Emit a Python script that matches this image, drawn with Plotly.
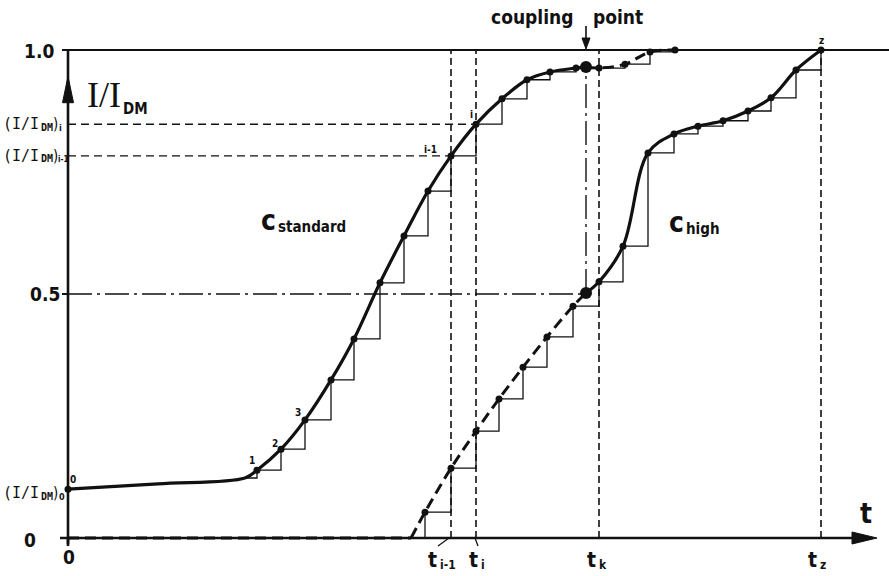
import plotly.graph_objects as go

# ---------------------------------------------------------------------------
# Curve data: time t (arbitrary units) and normalised current I/I_DM
# ---------------------------------------------------------------------------
# c_standard, solid branch up to the coupling point
std_t = [0, 90, 177, 189, 213, 237, 263, 286, 312, 336, 360, 383, 408, 434, 459, 482, 508]
std_i = [0.100, 0.111, 0.123, 0.139, 0.182, 0.242, 0.324, 0.408, 0.523, 0.619,
         0.711, 0.783, 0.848, 0.900, 0.939, 0.955, 0.963]
# c_standard, dashed continuation behind the coupling point
std_after_t = [531, 557, 582, 607]
std_after_i = [0.963, 0.971, 0.996, 1.000]

# coupling point (same time on both curves)
couple_t = 518
couple_std_i = 0.965
couple_high_i = 0.502

# c_high, dashed branch before the coupling point
high_flat_t = [0, 343]
high_flat_i = [0.0, 0.0]
high_before_t = [343, 357, 383, 408, 431, 455, 479, 505]
high_before_i = [0.000, 0.053, 0.143, 0.219, 0.285, 0.350, 0.412, 0.475]
# c_high, solid branch after the coupling point
high_after_t = [531, 555, 580, 606, 630, 655, 680, 703, 728, 753]
high_after_i = [0.525, 0.598, 0.789, 0.828, 0.844, 0.855, 0.875, 0.902, 0.959, 1.000]

# marked time instants on the t axis
t_marks = {"i-1": 383, "i": 408, "k": 531, "z": 753}
i_level_im1 = std_i[std_t.index(t_marks["i-1"])]
i_level_i = std_i[std_t.index(t_marks["i"])]

# point numbering along c_standard
point_labels = ["0", "1", "2", "3", "i-1", "i"]
point_label_t = [0, 189, 213, 237, 383, 408]

FONT = "DejaVu Sans Condensed, Liberation Sans Narrow, DejaVu Sans, sans-serif"
MONO = "DejaVu Sans Mono"
SERIF = "Liberation Serif"
BLACK = "#111111"

PX_I = 1.0 / 488.0  # data units of I/I_DM per screen pixel

fig = go.Figure()


def line(x, y, width=1.3, dash="solid", shape="linear"):
    fig.add_trace(go.Scatter(x=x, y=y, mode="lines", hoverinfo="skip",
                             line=dict(color=BLACK, width=width, dash=dash, shape=shape)))


def dots(x, y, size=7):
    fig.add_trace(go.Scatter(x=x, y=y, mode="markers", hoverinfo="skip",
                             marker=dict(color=BLACK, size=size)))


# --- guide lines --------------------------------------------------------
for tm in t_marks.values():
    line([tm, tm], [0, 1.0], width=1.6, dash="7px,4px")
line([0, t_marks["i"]], [i_level_i, i_level_i], width=1.4, dash="8px,5px")
line([0, t_marks["i-1"]], [i_level_im1, i_level_im1], width=1.4, dash="8px,5px")
# dash-dot construction of the coupling point
line([0, couple_t], [0.5, 0.5], width=1.4, dash="24px,5px,3px,5px")
line([couple_t, couple_t], [couple_high_i, couple_std_i], width=1.4, dash="24px,5px,3px,5px")

# --- integration staircases --------------------------------------------
step_std_t = std_t[2:] + std_after_t
step_std_i = std_i[2:] + std_after_i
line(step_std_t, step_std_i, width=1.3, shape="hv")
step_high_t = high_before_t + high_after_t
step_high_i = high_before_i + high_after_i
line(step_high_t, step_high_i, width=1.3, shape="hv")

# --- curves -------------------------------------------------------------
line(std_t + [couple_t], std_i + [couple_std_i], width=3.2, shape="spline")
line([couple_t] + std_after_t, [couple_std_i] + std_after_i, width=3.0,
     dash="11px,6px", shape="spline")
line(high_flat_t, high_flat_i, width=3.0, dash="11px,6px")
line(high_before_t + [couple_t], high_before_i + [couple_high_i], width=3.0,
     dash="11px,6px", shape="spline")
line([couple_t] + high_after_t, [couple_high_i] + high_after_i, width=3.2, shape="spline")

# --- points -------------------------------------------------------------
dots([std_t[0]] + std_t[3:] + std_after_t, [std_i[0]] + std_i[3:] + std_after_i, size=7)
dots(high_before_t[1:] + high_after_t, high_before_i[1:] + high_after_i, size=7)
dots([couple_t, couple_t], [couple_std_i, couple_high_i], size=12)

# --- axes and arrows drawn as shapes -----------------------------------
shapes = [
    dict(type="line", x0=-8, y0=0, x1=790, y1=0, line=dict(color=BLACK, width=2.6)),
    dict(type="path", path=f"M 784,{6 * PX_I} L 809,0 L 784,{-6 * PX_I} Z",
         fillcolor=BLACK, line=dict(color=BLACK, width=1)),
    dict(type="line", x0=0, y0=-6 * PX_I, x1=0, y1=1.0, line=dict(color=BLACK, width=2.6)),
    dict(type="path", path="M -5.5,0.892 L 0,0.946 L 5.5,0.892 Z",
         fillcolor=BLACK, line=dict(color=BLACK, width=1)),
    dict(type="line", x0=-6, y0=1.0, x1=821, y1=1.0, line=dict(color=BLACK, width=2.2)),
    dict(type="line", x0=-6, y0=0.5, x1=0, y1=0.5, line=dict(color=BLACK, width=2)),
    dict(type="line", x0=0, y0=0, x1=0, y1=-8 * PX_I, line=dict(color=BLACK, width=2.6)),
    # leader strokes for t_(i-1) and t_i
    dict(type="line", x0=t_marks["i-1"] - 13, y0=-8 * PX_I, x1=t_marks["i-1"] - 2, y1=0,
         line=dict(color=BLACK, width=1.3)),
    dict(type="line", x0=t_marks["i"] + 2, y0=-8 * PX_I, x1=t_marks["i"] - 1, y1=0,
         line=dict(color=BLACK, width=1.3)),
    # arrow pointing at the coupling instant
    dict(type="line", x0=couple_t, y0=1.0 + 24 * PX_I, x1=couple_t, y1=1.0 + 8 * PX_I,
         line=dict(color=BLACK, width=1.6)),
    dict(type="path",
         path=f"M {couple_t - 4},{1.0 + 12 * PX_I} L {couple_t},{1.0 + 1 * PX_I} "
              f"L {couple_t + 4},{1.0 + 12 * PX_I} Z",
         fillcolor=BLACK, line=dict(color=BLACK, width=1)),
]

ann = []


def text(x, y, s, size, xanchor="center", yanchor="middle", family=FONT,
         weight="normal", pad=1):
    ann.append(dict(x=x, y=y, text=s, showarrow=False, xanchor=xanchor, yanchor=yanchor,
                    borderpad=pad,
                    font=dict(family=family, size=size, color=BLACK, weight=weight)))


def idm_label(y, sub, sub_size=9, sub_x=-10):
    """(I/I_DM)_sub label placed left of the ordinate at level y."""
    text(-28, y, "(I/I", 15, xanchor="right", family=MONO, pad=0)
    text(-28, y - 3 * PX_I, "DM", 10, xanchor="left", family=MONO, weight="bold", pad=0)
    text(-16, y, ")", 15, xanchor="left", pad=0)
    text(sub_x, y - 4 * PX_I, sub, sub_size, xanchor="left", weight="bold", pad=0)


# y-axis labels
text(-12, 0.997, "1.0", 19, xanchor="right", weight="bold")
text(-6, 0.5, "0.5", 19, xanchor="right", weight="bold")
text(-30, -0.004, "0", 19, xanchor="right", weight="bold")
idm_label(i_level_i, "i")
idm_label(i_level_im1, "i-1", sub_size=8, sub_x=-11.5)
idm_label(std_i[0] - 4 * PX_I, "0")
# y-axis title
text(17, 0.908, "I/I", 36, xanchor="left", family=SERIF)
text(53, 0.880, "DM", 15, xanchor="left", weight="bold")

# x-axis labels
text(1, -19 * PX_I, "0", 19, weight="bold")
text(798, 25 * PX_I, "t", 28, weight="bold")
tick_shift = {"i-1": -10, "i": 6, "k": 1, "z": 0}
for key, tm in t_marks.items():
    x0 = tm + tick_shift[key]
    text(x0 - 2, -22 * PX_I, "t", 21, xanchor="right", weight="bold")
    text(x0 - 3, -27 * PX_I, key, 12, xanchor="left", weight="bold")

# point numbers
for lab, tp in zip(point_labels, point_label_t):
    yi = std_i[std_t.index(tp)]
    dx = {"0": 5, "1": -5, "2": -6, "3": -7, "i-1": -21, "i": -5}[lab]
    dy = {"0": 10, "1": 10, "2": 6, "3": 7, "i-1": 6, "i": 10}[lab]
    text(tp + dx, yi + dy * PX_I, lab, 10, weight="bold")
text(high_after_t[-1], high_after_i[-1] + 10 * PX_I, "z", 10, weight="bold")

# curve names
text(210, 0.651, "c", 28, xanchor="right", weight="bold")
text(208, 0.637, "standard", 15, xanchor="left", weight="bold")
text(618, 0.647, "c", 28, xanchor="right", weight="bold")
text(616, 0.633, "high", 15, xanchor="left", weight="bold")

# coupling point caption
text(couple_t - 11, 1.0 + 33 * PX_I, "coupling", 19, xanchor="right", weight="bold")
text(couple_t + 5, 1.0 + 33 * PX_I, "point", 19, xanchor="left", weight="bold")

fig.update_layout(
    width=889, height=576,
    margin=dict(l=0, r=0, t=0, b=0),
    paper_bgcolor="white", plot_bgcolor="white",
    showlegend=False,
    xaxis=dict(range=[-68, 821], visible=False, fixedrange=True),
    yaxis=dict(range=[-38 * PX_I, 538 * PX_I], visible=False, fixedrange=True),
    shapes=shapes,
    annotations=ann,
)

fig.write_html("out.html")
